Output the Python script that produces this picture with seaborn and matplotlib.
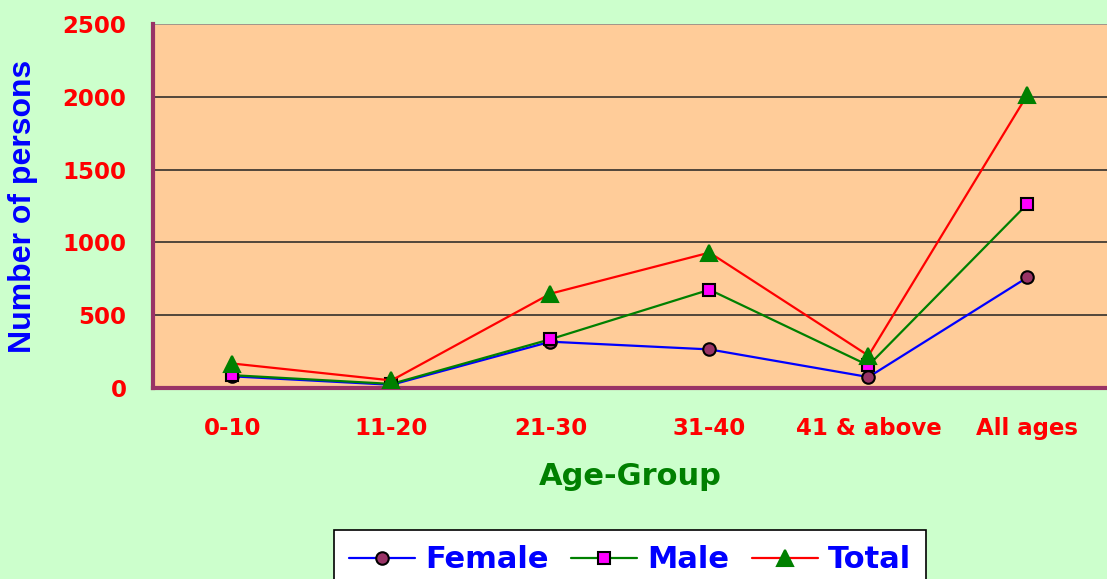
import matplotlib
matplotlib.use("Agg")
import matplotlib.pyplot as plt
import pandas as pd
import seaborn as sns

# Data
age_groups = ["0-10", "11-20", "21-30", "31-40", "41 & above", "All ages"]
female = [80, 22, 318, 265, 75, 760]
male = [88, 28, 335, 675, 155, 1265]
total = [168, 52, 648, 930, 222, 2015]

y_ticks = [0, 500, 1000, 1500, 2000, 2500]

df = pd.DataFrame({"age": age_groups, "Female": female, "Male": male, "Total": total})

sns.set_theme(style="white")
plt.rcParams["font.family"] = ["DejaVu Sans"]

fig = plt.figure(figsize=(11.07, 5.79), dpi=100)
fig.patch.set_facecolor("#CCFFCC")
ax = fig.add_axes([0.1382, 0.3299, 0.8618, 0.6286])
ax.set_facecolor("#FFCC99")

x = list(range(len(age_groups)))
styles = {
    "Female": dict(color="#0000FF", marker="o", markerfacecolor="#993366", markersize=9),
    "Male": dict(color="#008000", marker="s", markerfacecolor="#FF00FF", markersize=9),
    "Total": dict(color="#FF0000", marker="^", markerfacecolor="#008000",
                  markeredgecolor="#008000", markersize=12),
}
for name, st in styles.items():
    sns.lineplot(x=x, y=df[name], ax=ax, label=name, linewidth=1.6,
                 markeredgecolor=st.pop("markeredgecolor", "black"),
                 markeredgewidth=1.5, zorder=3, **st)

ax.set_xlim(-0.5, 5.5)
ax.set_ylim(0, 2500)
ax.set_yticks(y_ticks)
ax.set_yticklabels([str(t) for t in y_ticks], color="#FF0000", fontsize=16.5, fontweight="bold")
ax.set_xticks(x)
ax.set_xticklabels(age_groups, color="#FF0000", fontsize=16.5, fontweight="bold")
ax.set_xticks([i - 0.5 for i in range(len(age_groups) + 1)], minor=True)
ax.tick_params(axis="x", which="major", length=0, pad=21)
ax.tick_params(axis="x", which="minor", length=8, width=3, color="#993366", direction="out")
ax.tick_params(axis="y", length=9, width=3, color="#993366", direction="out", pad=10)

for y in y_ticks[1:]:
    ax.axhline(y, color="#222222" if y < 2500 else "#888888", linewidth=1.1, zorder=1)

for side in ("top", "right"):
    ax.spines[side].set_visible(False)
for side in ("left", "bottom"):
    ax.spines[side].set_color("#993366")
    ax.spines[side].set_linewidth(3)

ax.set_xlabel("Age-Group", color="#008000", fontsize=22, fontweight="bold", labelpad=16)
ax.set_ylabel("Number of persons", color="#0000FF", fontsize=23, fontweight="bold",
              family="Liberation Sans")
ax.yaxis.set_label_coords(-0.1205, 0.5)

leg = ax.legend(loc="upper center", bbox_to_anchor=(0.5, -0.348), ncol=3, frameon=True,
                fancybox=False, edgecolor="black", facecolor="white", framealpha=1,
                fontsize=22, handlelength=2.15, columnspacing=0.75, handletextpad=0.33,
                borderpad=0.5)
leg.get_frame().set_linewidth(1.2)
for t in leg.get_texts():
    t.set_color("#0000FF")
    t.set_fontweight("bold")

fig.savefig("out.png", dpi=100, facecolor=fig.get_facecolor())
